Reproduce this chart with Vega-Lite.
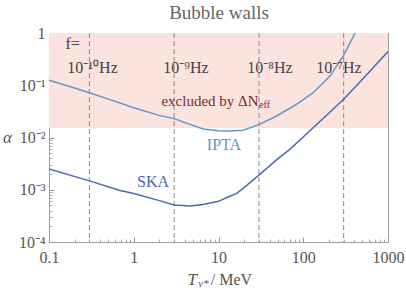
{
  "$schema": "https://vega.github.io/schema/vega-lite/v6.json",
  "width": 339,
  "height": 209,
  "autosize": {"type": "none"},
  "padding": {"left": 49, "top": 33, "right": 18, "bottom": 49},
  "background": "white",
  "config": {"view": {"stroke": "#a0a0a0", "strokeWidth": 1}, "font": "Liberation Serif"},
  "datasets": {
    "excl": [{"x1": 0.1, "x2": 1000, "y1": 0.015, "y2": 1}],
    "freq": [{"x": 0.3}, {"x": 3}, {"x": 30}, {"x": 300}],
    "curves": [
      {"series": "IPTA", "x": 0.1, "y": 0.125},
      {"series": "IPTA", "x": 0.2, "y": 0.0885},
      {"series": "IPTA", "x": 0.3, "y": 0.072},
      {"series": "IPTA", "x": 0.525, "y": 0.053},
      {"series": "IPTA", "x": 1, "y": 0.037},
      {"series": "IPTA", "x": 2, "y": 0.0265},
      {"series": "IPTA", "x": 3, "y": 0.023},
      {"series": "IPTA", "x": 4.5, "y": 0.018},
      {"series": "IPTA", "x": 6.6, "y": 0.0146},
      {"series": "IPTA", "x": 10, "y": 0.0135},
      {"series": "IPTA", "x": 14, "y": 0.0133},
      {"series": "IPTA", "x": 19.5, "y": 0.0138},
      {"series": "IPTA", "x": 30, "y": 0.0176},
      {"series": "IPTA", "x": 48, "y": 0.0255},
      {"series": "IPTA", "x": 83, "y": 0.043},
      {"series": "IPTA", "x": 131, "y": 0.072},
      {"series": "IPTA", "x": 207, "y": 0.15},
      {"series": "IPTA", "x": 296, "y": 0.36},
      {"series": "IPTA", "x": 410, "y": 1.0},
      {"series": "SKA", "x": 0.1, "y": 0.0025},
      {"series": "SKA", "x": 0.3, "y": 0.00148},
      {"series": "SKA", "x": 0.69, "y": 0.00097},
      {"series": "SKA", "x": 1, "y": 0.00085},
      {"series": "SKA", "x": 2, "y": 0.00062},
      {"series": "SKA", "x": 3, "y": 0.00051},
      {"series": "SKA", "x": 4.6, "y": 0.00049},
      {"series": "SKA", "x": 6.6, "y": 0.00052},
      {"series": "SKA", "x": 10, "y": 0.0006},
      {"series": "SKA", "x": 13.6, "y": 0.00075},
      {"series": "SKA", "x": 16.4, "y": 0.00085},
      {"series": "SKA", "x": 20, "y": 0.0011},
      {"series": "SKA", "x": 30, "y": 0.0019},
      {"series": "SKA", "x": 48, "y": 0.0037},
      {"series": "SKA", "x": 70, "y": 0.006},
      {"series": "SKA", "x": 131, "y": 0.0154},
      {"series": "SKA", "x": 300, "y": 0.054},
      {"series": "SKA", "x": 600, "y": 0.18},
      {"series": "SKA", "x": 1000, "y": 0.44}
    ],
    "notes": [
      {"text": "f=", "x": 0.19, "y": 0.62},
      {"text": "10⁻¹⁰Hz", "x": 0.326, "y": 0.217},
      {"text": "10⁻⁹Hz", "x": 4.13, "y": 0.217},
      {"text": "10⁻⁸Hz", "x": 40.5, "y": 0.217},
      {"text": "10⁻⁷Hz", "x": 264, "y": 0.217}
    ],
    "excltext": [{"text": "excluded by ΔN", "x": 7.94, "y": 0.0505}],
    "effsub": [{"text": "eff", "x": 30.1, "y": 0.0425}],
    "names": [
      {"series": "IPTA", "x": 11.6, "y": 0.0072},
      {"series": "SKA", "x": 1.69, "y": 0.00143}
    ]
  },
  "layer": [
    {
      "data": {"name": "excl"},
      "mark": {"type": "rect", "color": "#fbe3de"},
      "encoding": {
        "x": {"field": "x1", "type": "quantitative", "scale": {"type": "log", "domain": [0.1, 1000], "nice": false},
          "axis": {"orient": "bottom", "values": [0.1, 1, 10, 100, 1000], "labelExpr": "datum.value < 0.5 ? '0.1' : format(datum.value, 'd')", "tickSize": -5, "tickColor": "#999999", "domain": false, "grid": false, "labelFont": "Liberation Serif", "labelFontSize": 16, "labelColor": "#555555", "labelPadding": 12, "labelFlush": false, "labelOverlap": false,
            "title": "T", "titleFont": "Liberation Serif", "titleFontStyle": "italic", "titleFontWeight": "normal", "titleFontSize": 17, "titleColor": "#555555", "titleX": 142.7, "titleY": 37, "titleBaseline": "middle", "titleAlign": "center", "titleAnchor": null}},
        "x2": {"field": "x2"},
        "y": {"field": "y1", "type": "quantitative", "scale": {"type": "log", "domain": [0.0001, 1], "nice": false},
          "axis": {"orient": "left", "values": [0.0001, 0.001, 0.01, 0.1, 1], "labelExpr": "datum.value > 0.5 ? '1' : datum.value > 0.05 ? '10⁻¹' : datum.value > 0.005 ? '10⁻²' : datum.value > 0.0005 ? '10⁻³' : '10⁻⁴'", "tickSize": -5, "tickColor": "#999999", "domain": false, "grid": false, "labelFont": "Liberation Serif", "labelFontSize": 16, "labelColor": "#555555", "labelPadding": 9, "labelFlush": false, "labelOverlap": false,
            "title": "α", "titleAngle": 0, "titleFont": "Liberation Serif", "titleFontStyle": "italic", "titleFontWeight": "normal", "titleFontSize": 17, "titleColor": "#555555", "titleX": -42, "titleY": 104, "titleBaseline": "middle", "titleAlign": "center"}},
        "y2": {"field": "y2"}
      }
    },
    {
      "data": {"name": "freq"},
      "mark": {"type": "rule", "color": "#8a8a8a", "strokeDash": [5, 3], "strokeWidth": 1},
      "encoding": {
        "x": {"field": "x", "type": "quantitative", "scale": {"type": "log", "domain": [0.1, 1000], "nice": false},
          "axis": {"orient": "bottom", "values": [0.2, 0.3, 0.4, 0.5, 0.6, 0.7, 0.8, 0.9, 2, 3, 4, 5, 6, 7, 8, 9, 20, 30, 40, 50, 60, 70, 80, 90, 200, 300, 400, 500, 600, 700, 800, 900], "tickSize": -3, "tickColor": "#aaaaaa", "labels": false, "domain": false, "grid": false,
            "title": "ν*", "titleFont": "Liberation Serif", "titleFontStyle": "italic", "titleFontWeight": "normal", "titleFontSize": 11, "titleColor": "#555555", "titleX": 154, "titleY": 41, "titleBaseline": "middle", "titleAlign": "center"}}
      }
    },
    {
      "data": {"name": "curves"},
      "mark": {"type": "line", "strokeWidth": 1.5, "clip": true},
      "encoding": {
        "x": {"field": "x", "type": "quantitative", "scale": {"type": "log", "domain": [0.1, 1000], "nice": false},
          "axis": {"orient": "bottom", "ticks": false, "labels": false, "domain": false, "grid": false,
            "title": "/ MeV", "titleFont": "Liberation Serif", "titleFontWeight": "normal", "titleFontSize": 16, "titleColor": "#555555", "titleX": 182, "titleY": 37, "titleBaseline": "middle", "titleAlign": "center"}},
        "y": {"field": "y", "type": "quantitative", "scale": {"type": "log", "domain": [0.0001, 1], "nice": false},
          "axis": {"orient": "left", "values": [0.0002, 0.0003, 0.0004, 0.0005, 0.0006, 0.0007, 0.0008, 0.0009, 0.002, 0.003, 0.004, 0.005, 0.006, 0.007, 0.008, 0.009, 0.02, 0.03, 0.04, 0.05, 0.06, 0.07, 0.08, 0.09, 0.2, 0.3, 0.4, 0.5, 0.6, 0.7, 0.8, 0.9], "tickSize": -3, "tickColor": "#aaaaaa", "labels": false, "domain": false, "grid": false, "title": null}},
        "color": {"field": "series", "type": "nominal", "scale": {"domain": ["IPTA", "SKA"], "range": ["#5e98c8", "#4c6aae"]}, "legend": null},
        "order": {"field": "x", "type": "quantitative"}
      }
    },
    {
      "data": {"name": "notes"},
      "mark": {"type": "text", "font": "Liberation Serif", "fontSize": 16, "color": "#444444", "align": "center", "baseline": "middle"},
      "encoding": {
        "x": {"field": "x", "type": "quantitative", "scale": {"type": "log", "domain": [0.1, 1000], "nice": false},
          "axis": {"orient": "top", "ticks": false, "labels": false, "domain": false, "grid": false,
            "title": "Bubble walls", "titleFont": "Liberation Serif", "titleFontWeight": "normal", "titleFontSize": 19, "titleColor": "#666666", "titleX": 169.5, "titleY": -15, "titleBaseline": "alphabetic", "titleAlign": "center"}},
        "y": {"field": "y", "type": "quantitative", "scale": {"type": "log", "domain": [0.0001, 1], "nice": false}, "axis": null},
        "text": {"field": "text"}
      }
    },
    {
      "data": {"name": "excltext"},
      "mark": {"type": "text", "font": "Liberation Serif", "fontSize": 15, "color": "#7d2c2c", "align": "center", "baseline": "middle"},
      "encoding": {
        "x": {"field": "x", "type": "quantitative", "scale": {"type": "log", "domain": [0.1, 1000], "nice": false}, "axis": null},
        "y": {"field": "y", "type": "quantitative", "scale": {"type": "log", "domain": [0.0001, 1], "nice": false}, "axis": null},
        "text": {"field": "text"}
      }
    },
    {
      "data": {"name": "effsub"},
      "mark": {"type": "text", "font": "Liberation Serif", "fontSize": 10, "color": "#7d2c2c", "align": "left", "baseline": "middle"},
      "encoding": {
        "x": {"field": "x", "type": "quantitative", "scale": {"type": "log", "domain": [0.1, 1000], "nice": false}, "axis": null},
        "y": {"field": "y", "type": "quantitative", "scale": {"type": "log", "domain": [0.0001, 1], "nice": false}, "axis": null},
        "text": {"field": "text"}
      }
    },
    {
      "data": {"name": "names"},
      "mark": {"type": "text", "font": "Liberation Serif", "fontSize": 16, "align": "center", "baseline": "middle"},
      "encoding": {
        "x": {"field": "x", "type": "quantitative", "scale": {"type": "log", "domain": [0.1, 1000], "nice": false}, "axis": null},
        "y": {"field": "y", "type": "quantitative", "scale": {"type": "log", "domain": [0.0001, 1], "nice": false}, "axis": null},
        "text": {"field": "series"},
        "color": {"field": "series", "type": "nominal", "scale": {"domain": ["IPTA", "SKA"], "range": ["#5e98c8", "#4c6aae"]}, "legend": null}
      }
    }
  ],
  "resolve": {"axis": {"x": "independent", "y": "independent"}}
}
